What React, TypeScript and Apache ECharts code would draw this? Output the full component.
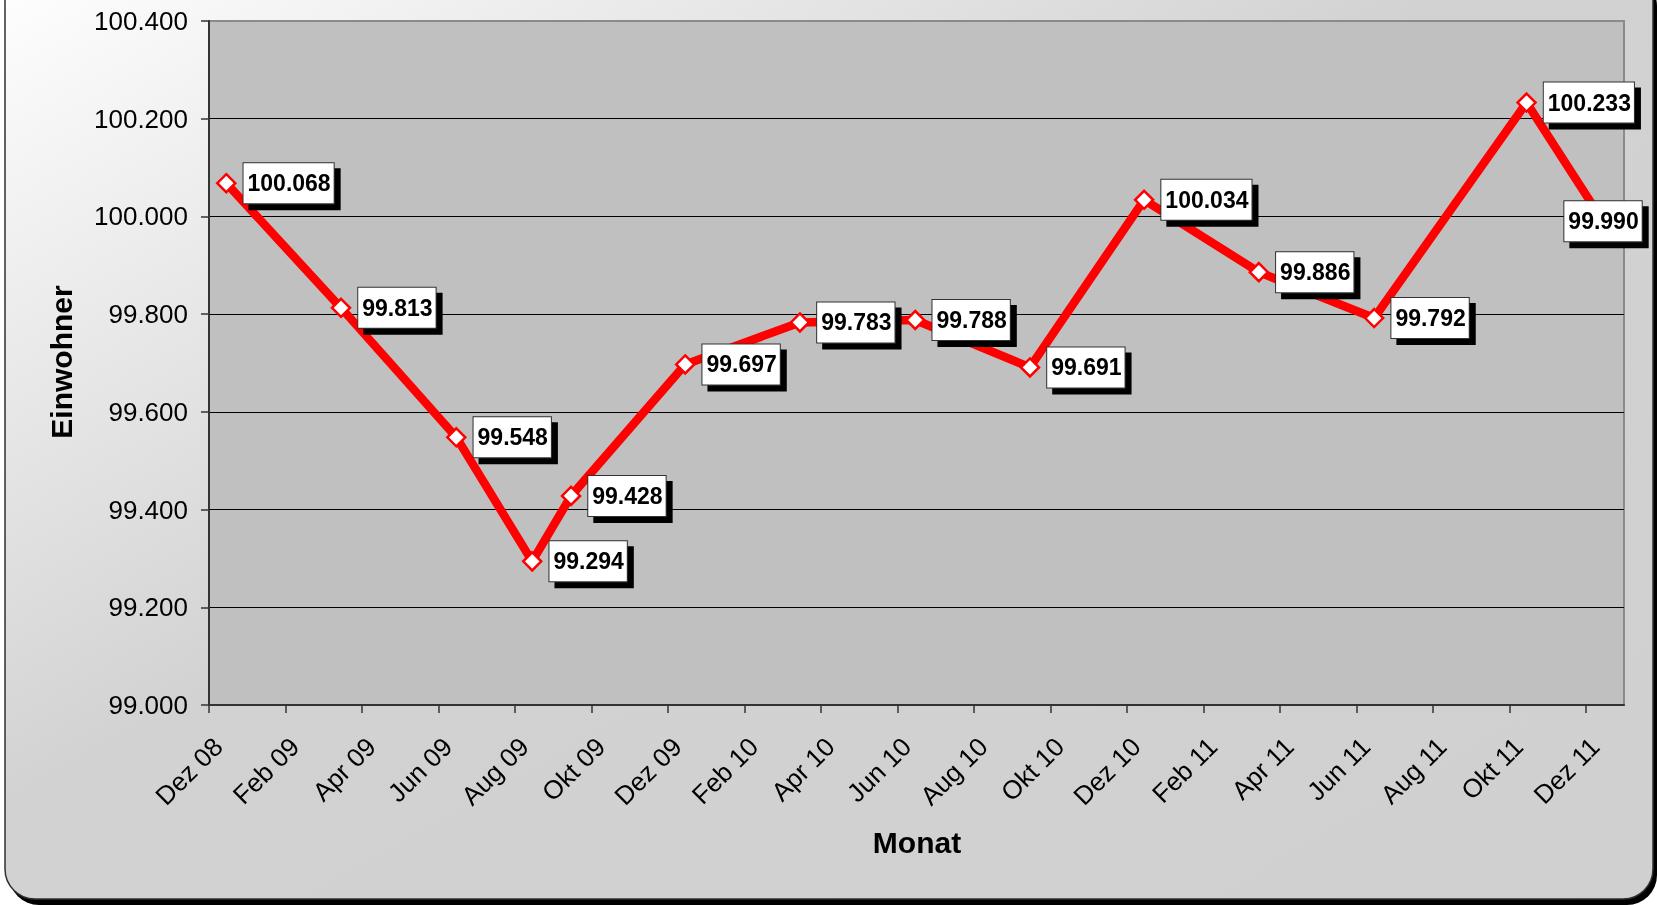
import React, { useEffect, useRef } from "react";
import * as echarts from "echarts";

// Stichtage (Mitte des Monats) und Einwohnerzahlen
const dates: string[] = [
  "2008-12-15", "2009-03-15", "2009-06-15", "2009-08-15", "2009-09-15",
  "2009-12-15", "2010-03-15", "2010-06-15", "2010-09-15", "2010-12-15",
  "2011-03-15", "2011-06-15", "2011-10-15", "2011-12-15",
];
const values: number[] = [
  100068, 99813, 99548, 99294, 99428,
  99697, 99783, 99788, 99691, 100034,
  99886, 99792, 100233, 99990,
];
const monthNames: string[] = ["Jan", "Feb", "Mär", "Apr", "Mai", "Jun", "Jul", "Aug", "Sep", "Okt", "Nov", "Dez"];
const tickMonths: number[] = [0, 2, 4, 6, 8, 10, 12, 14, 16, 18, 20, 22, 24, 26, 28, 30, 32, 34, 36];
const yTitle = "Einwohner";
const xTitle = "Monat";

const FONT = "'Liberation Sans', Arial, Helvetica, sans-serif";

function monthIndex(s: string): number {
  const [y, m, d] = s.split("-").map(Number);
  const dim = new Date(y, m, 0).getDate();
  return (y - 2008) * 12 + (m - 12) + (d - 1) / dim;
}

function monthLabel(v: number): string {
  const m = 11 + Math.round(v);
  const year = 2008 + Math.floor(m / 12);
  return `${monthNames[m % 12]} ${String(year % 100).padStart(2, "0")}`;
}

function fmt(n: number): string {
  const r = Math.round(n);
  return `${Math.floor(r / 1000)}.${String(r % 1000).padStart(3, "0")}`;
}

export default function App() {
  const ref = useRef<HTMLDivElement>(null);
  useEffect(() => {
    if (!ref.current) return;
    const chart = echarts.init(ref.current, undefined, { renderer: "svg" });
    const seriesData = dates.map((d, i) => {
      const item: any = { value: [monthIndex(d), values[i]] };
      if (i === dates.length - 1) item.label = { position: "inside" };
      return item;
    });
    chart.setOption({
      animation: false,
      graphic: [
        {
          type: "rect",
          z: -20,
          silent: true,
          shape: { x: 9, y: -24, width: 1648, height: 929, r: 30 },
          style: { fill: "#000" },
        },
        {
          type: "rect",
          z: -19,
          silent: true,
          shape: { x: 5, y: -30, width: 1648, height: 929, r: 30 },
          style: {
            fill: {
              type: "linear", x: 0, y: 0, x2: 1, y2: 1,
              colorStops: [
                { offset: 0, color: "#ffffff" },
                { offset: 0.45, color: "#d2d2d2" },
                { offset: 1, color: "#d0d0d0" },
              ],
            },
            stroke: "#303030",
            lineWidth: 1.5,
          },
        },
        {
          type: "text",
          z: 10,
          x: 61,
          y: 362,
          rotation: Math.PI / 2,
          style: {
            text: yTitle,
            fill: "#000",
            font: `bold 30px ${FONT}`,
            align: "center",
            verticalAlign: "middle",
          },
        },
        {
          type: "text",
          z: 10,
          x: 917,
          y: 842,
          style: {
            text: xTitle,
            fill: "#000",
            font: `bold 30px ${FONT}`,
            align: "center",
            verticalAlign: "middle",
          },
        },
      ],
      grid: {
        left: 209,
        right: 33,
        top: 21,
        bottom: 200,
        show: true,
        backgroundColor: "#c0c0c0",
        borderColor: "#8a8a8a",
        borderWidth: 2,
      },
      xAxis: {
        type: "value",
        min: 0,
        max: 37,
        interval: 2,
        axisLine: { show: true, onZero: false, lineStyle: { color: "#333", width: 2 } },
        axisTick: { show: true, length: 8, customValues: tickMonths, lineStyle: { color: "#333", width: 1.5 } },
        axisLabel: {
          customValues: tickMonths,
          rotate: 45,
          margin: 28,
          verticalAlign: "top",
          fontSize: 26,
          fontFamily: FONT,
          color: "#000",
          formatter: (v: number) => monthLabel(v),
        },
        splitLine: { show: false },
      },
      yAxis: {
        type: "value",
        min: 99000,
        max: 100400,
        interval: 200,
        axisLine: { show: true, lineStyle: { color: "#333", width: 2 } },
        axisTick: { show: true, length: 8, lineStyle: { color: "#333", width: 1.5 } },
        axisLabel: {
          margin: 21,
          fontSize: 26,
          fontFamily: FONT,
          color: "#000",
          formatter: (v: number) => fmt(v),
        },
        splitLine: { show: true, showMinLine: false, showMaxLine: false, lineStyle: { color: "#000", width: 1 } },
      },
      series: [
        {
          type: "line",
          data: seriesData,
          symbol: "diamond",
          symbolSize: 18,
          showAllSymbol: true,
          lineStyle: { color: "#ff0000", width: 8.5 },
          itemStyle: { color: "#ffffff", borderColor: "#ff0000", borderWidth: 2.5 },
          emphasis: { disabled: true },
          label: {
            show: true,
            position: "right",
            distance: 7,
            formatter: (p: any) => fmt(p.value[1]),
            color: "#000",
            fontFamily: FONT,
            fontWeight: "bold",
            fontSize: 23,
            lineHeight: 26,
            backgroundColor: "#ffffff",
            borderColor: "#303030",
            borderWidth: 1,
            padding: [7, 3, 7, 4],
            shadowColor: "#000",
            shadowOffsetX: 6,
            shadowOffsetY: 6,
            shadowBlur: 0,
          },
        },
      ],
    });
    return () => chart.dispose();
  }, []);
  return (
    <div
      ref={ref}
      style={{ position: "fixed", left: 0, top: 0, width: "1657px", height: "905px" }}
    />
  );
}
